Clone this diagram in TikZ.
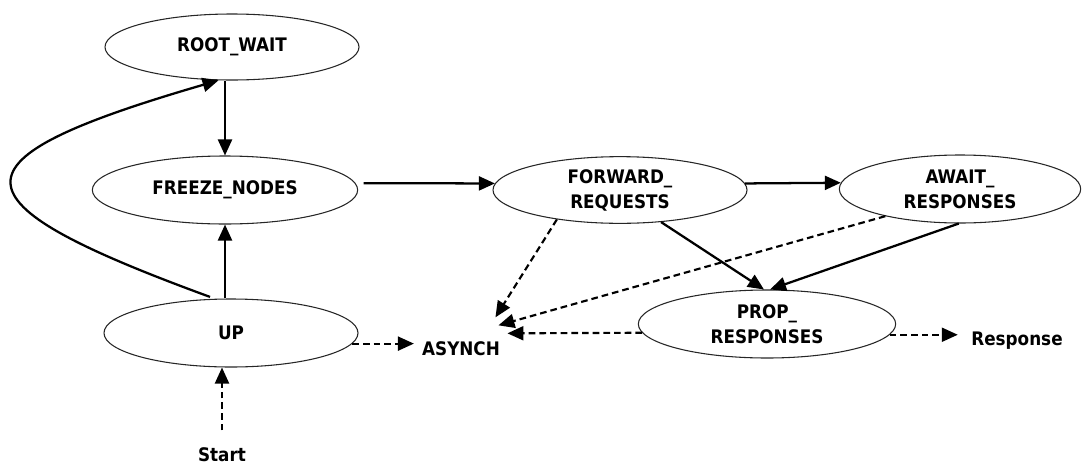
\documentclass[tikz,border=0pt]{standalone}
\usepackage{fontspec}
\setmainfont{DejaVu Sans Condensed}
\usetikzlibrary{shapes.geometric,arrows.meta,calc}

\begin{document}
\begin{tikzpicture}[x=0.75pt,y=0.75pt,yscale=-1,xscale=1,
  state/.style={ellipse,draw=black!85,line width=0.8pt,inner sep=0pt,align=center,font=\bfseries\fontsize{14}{18.8}\selectfont},
  lbl/.style={inner sep=1pt,font=\bfseries\fontsize{14}{18.8}\selectfont},
  trans/.style={line width=1.7pt,-{Triangle[length=12pt,width=10.5pt]}},
  event/.style={line width=1.6pt,dash pattern=on 5pt off 3pt,-{Triangle[length=12pt,width=10.5pt]}}]
\useasboundingbox (0,0) rectangle (1084,468);

%Shape: Ellipse [states]
\node[state,minimum width=190.5pt,minimum height=49.5pt] (root) at (232,47) {ROOT\_WAIT};
\node[state,minimum width=199pt,minimum height=51pt] (freeze) at (225,190) {FREEZE\_NODES};
\node[state,minimum width=190.5pt,minimum height=51pt] (up) at (231,333) {UP};
\node[state,minimum width=190.5pt,minimum height=50pt] (forward) at (620,190) {FORWARD\_\\REQUESTS};
\node[state,minimum width=181pt,minimum height=51pt] (await) at (960,189) {AWAIT\_\\RESPONSES};
\node[state,minimum width=193pt,minimum height=51pt] (prop) at (767,324) {PROP\_\\RESPONSES};

% Text Node
\node[lbl] (asynch) at (461,349) {ASYNCH};
% Text Node
\node[lbl] (response) at (1017,341) {Response};
% Text Node
\node[lbl] (start) at (222,455) {Start};

%Straight Lines [transitions]
\draw[trans] (root.south -| freeze) -- (freeze.north);
\draw[trans] (up.north -| freeze) -- (freeze.south);
\draw[trans,shorten <=4pt] (up.115) .. controls (-55,200) and (-55,160) .. (root.-112);
\draw[trans,shorten <=6pt] (freeze.3) -- (forward.177);
\draw[trans] (forward.3) -- (await.177);
\draw[trans] (forward.-38) -- (prop.95);
\draw[trans] (await.-92) -- (prop.85);

%Dashed Lines [events]
\draw[event] (forward.-155) -- ($(asynch.north east)+(-6,-23)$);
\draw[event] (await.-160) -- ($(asynch.north east)+(-3,-15)$);
\draw[event] (prop.184) -- ($(asynch.north east)+(6,-7)$);
\draw[event,shorten >=5pt] (up.-5) -- (up.-5 -| asynch.west);
\draw[event,shorten >=9pt] (prop.-5) -- (prop.-5 -| response.west);
\draw[event,shorten <=12pt] (start.north) -- (start.north |- up.south);

\end{tikzpicture}
\end{document}
